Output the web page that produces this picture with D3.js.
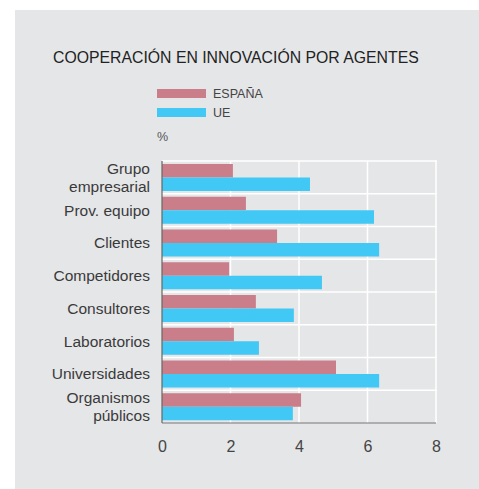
<!DOCTYPE html>
<html lang="es">
<head>
<meta charset="utf-8">
<script src="https://d3js.org/d3.v7.min.js"></script>
<style>
  body { margin: 0; background: #fff; }
  text { font-family: "Liberation Sans", Arial, sans-serif; }
</style>
</head>
<body>
<script>
// data (%)
var categories = ["Grupo\nempresarial", "Prov. equipo", "Clientes", "Competidores",
                  "Consultores", "Laboratorios", "Universidades", "Organismos\npúblicos"];
var espana = [2.07, 2.45, 3.36, 1.96, 2.74, 2.10, 5.08, 4.06];
var ue     = [4.32, 6.19, 6.34, 4.67, 3.85, 2.83, 6.34, 3.82];
var seriesNames = ["ESPAÑA", "UE"];
var xTicks = [0, 2, 4, 6, 8];

var W = 479, H = 489;
var colors = ["#c97e8a", "#42c8f4"];

var svg = d3.select("body").append("svg")
    .attr("width", W)
    .attr("height", H);

svg.append("rect")
    .attr("x", 15).attr("y", 10)
    .attr("width", W - 15).attr("height", H - 10)
    .attr("fill", "#e5e6e8");

svg.append("text")
    .attr("x", 53).attr("y", 63)
    .attr("font-size", 15.8)
    .attr("fill", "#222")
    .text("COOPERACIÓN EN INNOVACIÓN POR AGENTES");

// legend
var legend = svg.selectAll(".legend")
    .data(seriesNames)
    .enter().append("g")
    .attr("class", "legend")
    .attr("transform", function(d, i) { return "translate(157," + (89 + i * 19) + ")"; });
legend.append("rect")
    .attr("width", 49).attr("height", 9)
    .attr("fill", function(d, i) { return colors[i]; });
legend.append("text")
    .attr("x", 56).attr("y", 9)
    .attr("font-size", 12.5)
    .attr("fill", "#444")
    .text(function(d) { return d; });

svg.append("text")
    .attr("x", 157).attr("y", 141)
    .attr("font-size", 12.5)
    .attr("fill", "#555")
    .text("%");

var x = d3.scaleLinear().domain([0, 8]).range([162, 436]);
var y = d3.scaleBand().domain(d3.range(categories.length)).range([161, 423]);

// grid
var g = svg.append("g");
g.selectAll(".vgrid")
    .data(xTicks.slice(1))
    .enter().append("line")
    .attr("x1", function(d) { return x(d); }).attr("x2", function(d) { return x(d); })
    .attr("y1", 161).attr("y2", 423)
    .attr("stroke", "#fff").attr("stroke-width", 1.5);
g.selectAll(".hgrid")
    .data(d3.range(categories.length))
    .enter().append("line")
    .attr("x1", 162).attr("x2", 437)
    .attr("y1", function(d) { return y(d); }).attr("y2", function(d) { return y(d); })
    .attr("stroke", "#fff").attr("stroke-width", 1.5);

// bars
var barH = 13.5;
var rows = svg.selectAll(".row")
    .data(categories)
    .enter().append("g")
    .attr("transform", function(d, i) { return "translate(0," + y(i) + ")"; });
rows.append("rect")
    .attr("x", x(0)).attr("y", 3)
    .attr("width", function(d, i) { return x(espana[i]) - x(0); })
    .attr("height", barH)
    .attr("fill", colors[0]);
rows.append("rect")
    .attr("x", x(0)).attr("y", 3 + barH)
    .attr("width", function(d, i) { return x(ue[i]) - x(0); })
    .attr("height", barH)
    .attr("fill", colors[1]);

// category labels
rows.each(function(d) {
  var lines = d.split("\n");
  var t = d3.select(this).append("text")
      .attr("text-anchor", "end")
      .attr("font-size", 15.5)
      .attr("fill", "#3a3a3a");
  lines.forEach(function(l, k) {
    t.append("tspan")
      .attr("x", 150)
      .attr("y", y.bandwidth() / 2 + 5.5 + (k - (lines.length - 1) / 2) * 18.5)
      .text(l);
  });
});

// axes lines
svg.append("line")
    .attr("x1", x(0)).attr("x2", x(0))
    .attr("y1", 161).attr("y2", 423)
    .attr("stroke", "#666").attr("stroke-width", 1.2);
svg.append("line")
    .attr("x1", x(0)).attr("x2", 436)
    .attr("y1", 423).attr("y2", 423)
    .attr("stroke", "#777").attr("stroke-width", 1.2);

var xAxis = svg.append("g")
    .attr("transform", "translate(0,423)")
    .call(d3.axisBottom(x).tickValues(xTicks).tickSize(0).tickPadding(18));
xAxis.select(".domain").remove();
xAxis.selectAll("text")
    .attr("font-size", 16)
    .attr("fill", "#444")
    .style("font-family", "Liberation Sans, Arial, sans-serif");
</script>
</body>
</html>
